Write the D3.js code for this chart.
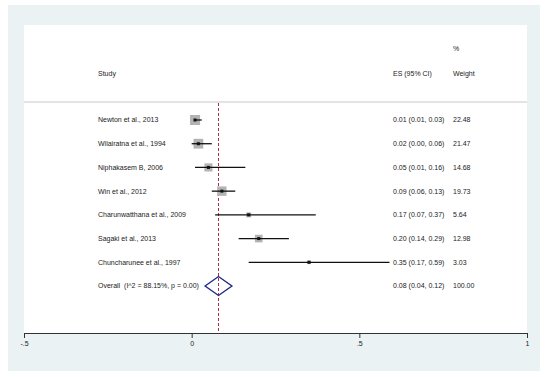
<!DOCTYPE html>
<html>
<head>
<meta charset="utf-8">
<script src="https://cdn.jsdelivr.net/npm/d3@7"></script>
<style>
  body { margin: 0; background: #fff; }
  text { font-family: "Liberation Sans", Arial, sans-serif; fill: #222; }
</style>
</head>
<body>
<div id="forest"></div>
<script>
// study data
var studies = ["Newton et al., 2013", "Wilairatna et al., 1994", "Niphakasem B, 2006",
               "Win et al., 2012", "Charunwatthana et al., 2009", "Sagaki et al., 2013",
               "Chuncharunee et al., 1997"];
var es      = [0.01, 0.02, 0.05, 0.09, 0.17, 0.20, 0.35];
var lower   = [0.01, 0.00, 0.01, 0.06, 0.07, 0.14, 0.17];
var upper   = [0.03, 0.06, 0.16, 0.13, 0.37, 0.29, 0.59];
var weights = [22.48, 21.47, 14.68, 19.73, 5.64, 12.98, 3.03];

var overallLabel = "Overall  (I^2 = 88.15%, p = 0.00)";
var overall = {es: 0.08, lo: 0.04, hi: 0.12, weight: 100.00};

var xTicks = [-0.5, 0, 0.5, 1];
var xTickLabels = ["-.5", "0", ".5", "1"];

var width = 550, height = 377;

var svg = d3.select("#forest")
  .append("svg")
    .attr("width", width)
    .attr("height", height);

// outer stata-ish background and inner white plot region
svg.append("rect")
  .attr("x", 8).attr("y", 5)
  .attr("width", 532).attr("height", 366)
  .attr("fill", "#eaf2f3");
svg.append("rect")
  .attr("x", 24).attr("y", 25)
  .attr("width", 503).attr("height", 308)
  .attr("fill", "#fff");

var x = d3.scaleLinear()
  .domain([-0.5, 1])
  .range([24, 527]);

var rows = studies.concat([overallLabel]);
var y = d3.scalePoint()
  .domain(rows)
  .range([120, 286]);

var fs = "7px";
var colStudy = 98, colES = 393, colW = 453;

// headers
svg.append("text").attr("x", colW).attr("y", 49).attr("dy", "0.35em").style("font-size", fs).text("%");
svg.append("text").attr("x", colStudy).attr("y", 74).attr("dy", "0.35em").style("font-size", fs).text("Study");
svg.append("text").attr("x", colES).attr("y", 74).attr("dy", "0.35em").style("font-size", fs).text("ES (95% CI)");
svg.append("text").attr("x", colW).attr("y", 74).attr("dy", "0.35em").style("font-size", fs).text("Weight");

svg.append("line")
  .attr("x1", 24).attr("x2", 527)
  .attr("y1", 102).attr("y2", 102)
  .attr("stroke", "#c8c8c8")
  .attr("stroke-width", 1);

// overall effect reference line
svg.append("line")
  .attr("x1", x(overall.es)).attr("x2", x(overall.es))
  .attr("y1", 103).attr("y2", 333)
  .attr("stroke", "#a3303c")
  .attr("stroke-width", 1)
  .attr("stroke-dasharray", "3,2");

var fmt = d3.format(".2f");

var rowsG = svg.append("g")
  .selectAll("g")
  .data(studies)
  .enter().append("g");

// weight boxes (area ~ weight)
rowsG.append("rect")
  .attr("fill", "#b3b3b3")
  .each(function(d, i) {
    var s = 10 * Math.sqrt(weights[i] / 22.48);
    d3.select(this)
      .attr("x", x(es[i]) - s / 2)
      .attr("y", y(d) - s / 2)
      .attr("width", s)
      .attr("height", s);
  });

rowsG.append("line")
  .attr("x1", function(d, i) { return x(lower[i]); })
  .attr("x2", function(d, i) { return x(upper[i]); })
  .attr("y1", function(d) { return y(d); })
  .attr("y2", function(d) { return y(d); })
  .attr("stroke", "#111")
  .attr("stroke-width", 1.3);

rowsG.append("rect")
  .attr("x", function(d, i) { return x(es[i]) - 1.5; })
  .attr("y", function(d) { return y(d) - 1.5; })
  .attr("width", 3).attr("height", 3)
  .attr("fill", "#111");

rowsG.append("text")
  .attr("x", colStudy)
  .attr("y", function(d) { return y(d); })
  .attr("dy", "0.35em")
  .style("font-size", fs)
  .text(function(d) { return d; });

rowsG.append("text")
  .attr("x", colES)
  .attr("y", function(d) { return y(d); })
  .attr("dy", "0.35em")
  .style("font-size", fs)
  .text(function(d, i) { return fmt(es[i]) + " (" + fmt(lower[i]) + ", " + fmt(upper[i]) + ")"; });

rowsG.append("text")
  .attr("x", colW)
  .attr("y", function(d) { return y(d); })
  .attr("dy", "0.35em")
  .style("font-size", fs)
  .text(function(d, i) { return fmt(weights[i]); });

// overall diamond
var yo = y(overallLabel);
svg.append("path")
  .attr("d", "M" + x(overall.lo) + "," + yo +
             "L" + x(overall.es) + "," + (yo - 9.5) +
             "L" + x(overall.hi) + "," + yo +
             "L" + x(overall.es) + "," + (yo + 9.5) + "Z")
  .attr("fill", "none")
  .attr("stroke", "#1f2a85")
  .attr("stroke-width", 1.4);

svg.append("text").attr("x", colStudy).attr("y", yo).attr("dy", "0.35em")
  .style("font-size", fs).style("white-space", "pre").attr("xml:space", "preserve")
  .text(overallLabel);
svg.append("text").attr("x", colES).attr("y", yo).attr("dy", "0.35em")
  .style("font-size", fs)
  .text(fmt(overall.es) + " (" + fmt(overall.lo) + ", " + fmt(overall.hi) + ")");
svg.append("text").attr("x", colW).attr("y", yo).attr("dy", "0.35em")
  .style("font-size", fs)
  .text(fmt(overall.weight));

// x axis
var axis = svg.append("g")
  .attr("transform", "translate(0,333)")
  .call(d3.axisBottom(x)
    .tickValues(xTicks)
    .tickFormat(function(d, i) { return xTickLabels[i]; })
    .tickSize(5)
    .tickSizeOuter(0));
axis.select(".domain").attr("stroke", "#333");
axis.selectAll(".tick line").attr("stroke", "#333");
axis.selectAll(".tick text")
  .attr("y", 8)
  .style("font-family", "Liberation Sans, Arial, sans-serif")
  .style("font-size", fs)
  .attr("fill", "#222");
</script>
</body>
</html>
